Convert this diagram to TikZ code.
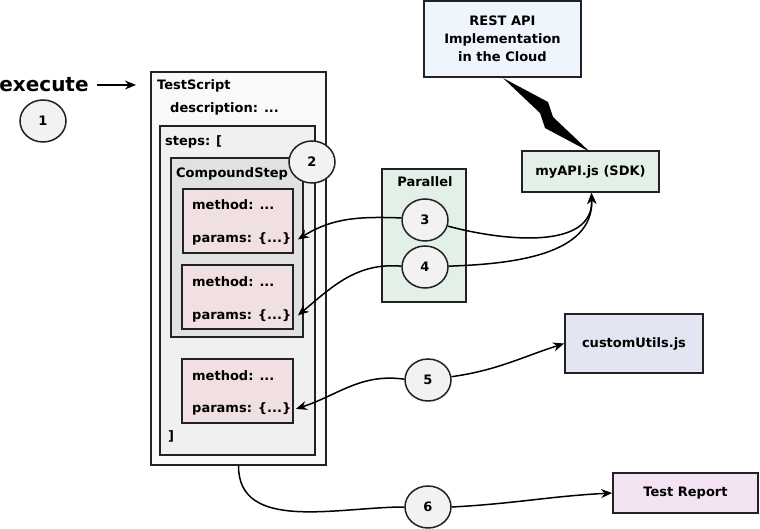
\documentclass[tikz,border=0pt]{standalone}
\usepackage{fontspec}
\setmainfont{DejaVu Sans}
\usetikzlibrary{shapes.geometric,arrows.meta}
\definecolor{bordc}{HTML}{222222}
\definecolor{tsc}{HTML}{F9F9F9}
\definecolor{stc}{HTML}{F0F0F0}
\definecolor{csc}{HTML}{E1E1E1}
\definecolor{mc}{HTML}{F0E0E2}
\definecolor{restc}{HTML}{EEF5FD}
\definecolor{apic}{HTML}{E2F0E8}
\definecolor{parc}{HTML}{E2F0E8}
\definecolor{cuc}{HTML}{E3E5F3}
\definecolor{trc}{HTML}{F3E3F3}
\definecolor{circc}{HTML}{F2F2F2}
\begin{document}
\begin{tikzpicture}[x=1pt,y=1pt,
  every node/.style={font=\bfseries\fontsize{13}{18}\selectfont},
  box/.style={rectangle, draw=bordc, line width=1.8pt, inner sep=0pt},
  lbl/.style={anchor=base west, inner sep=0pt},
  num/.style={ellipse, draw=bordc, line width=1.5pt, fill=circc,
    minimum width=46pt, minimum height=42pt, inner sep=0pt},
  conn/.style={line width=1.5pt, draw=black},
  arr/.style={conn, -{Stealth[length=11pt,width=9pt,inset=3.5pt]}},
]
\useasboundingbox (0,0) rectangle (760,-529);

% containers
\node[box, fill=tsc, minimum width=175pt, minimum height=393pt] (ts) at (238.5,-268.5) {};
\node[box, fill=stc, minimum width=155pt, minimum height=329pt] (st) at (237.5,-290.5) {};
\node[box, fill=csc, minimum width=132pt, minimum height=179pt] (cs) at (237,-247.5) {};
\node[box, fill=mc, minimum width=110pt, minimum height=64pt] (m1) at (238,-221) {};
\node[box, fill=mc, minimum width=111pt, minimum height=64pt] (m2) at (237.5,-297) {};
\node[box, fill=mc, minimum width=111pt, minimum height=64pt] (m3) at (237.5,-391) {};

% labels inside TestScript
\node[lbl] (tsl) at (157,-90) {TestScript};
\node[lbl] (desc) at (170,-113) {description: ...};
\node[lbl] (stl) at (165,-145.5) {steps: [};
\node[lbl] (csl) at (176,-178) {CompoundStep};
\node[lbl] (me1) at (192,-210) {method: ...};
\node[lbl] (p1) at (192,-243) {params: \{...\}};
\node[lbl] (me2) at (192,-286.5) {method: ...};
\node[lbl] (p2) at (192,-319) {params: \{...\}};
\node[lbl] (me3) at (192,-380) {method: ...};
\node[lbl] (p3) at (192,-412.5) {params: \{...\}};
\node[lbl] (cls) at (168,-440) {]};

% right-hand boxes
\node[box, fill=restc, minimum width=157pt, minimum height=76pt, align=center] (rest) at (502.5,-39) {REST API\\Implementation\\in the Cloud};
\node[box, fill=apic, minimum width=137pt, minimum height=41pt] (api) at (590.5,-171.5) {myAPI.js (SDK)};
\node[box, fill=parc, minimum width=84pt, minimum height=133pt] (par) at (424,-235.5) {};
\node[anchor=base, inner sep=0pt] (parl) at (425,-187) {Parallel};
\node[box, fill=cuc, minimum width=138pt, minimum height=59pt] (cu) at (634,-343.5) {customUtils.js};
\node[box, fill=trc, minimum width=145pt, minimum height=40pt] (tr) at (685.5,-493) {Test Report};

% execute
\node[anchor=base, inner sep=0pt, font=\bfseries\fontsize{20}{22}\selectfont] (ex) at (44,-92) {execute};
\coordinate (exb) at (136,-85);

% lightning
\fill[black] (503,-78) -- (548,-102) -- (553,-117) -- (590,-152) -- (545,-128) -- (540,-113) -- cycle;

% numbered circles
\node[num] (c1) at (43,-121) {1};
\node[num] (c2) at (312,-162) {2};
\node[num] (c3) at (425,-220) {3};
\node[num] (c4) at (425,-267) {4};
\node[num] (c5) at (428,-380) {5};
\node[num] (c6) at (428,-507) {6};

% connectors
\draw[arr, line width=1.3pt, shorten <=8pt] (ex.east |- exb) -- (exb);
\draw[arr] (c3.175) to[out=178,in=32] ([xshift=4pt]m1.east |- p1.center);
\draw[arr] (c4.178) to[out=175,in=40] ([xshift=4pt]m2.east |- p2.center);
\draw[arr] (c5.178) to[out=172,in=18] ([xshift=2pt]m3.east |- p3.center);
\draw[arr] (c3.-15) to[out=-15,in=-88] ([xshift=1pt]api.south);
\draw[arr] (c4.2) to[out=2,in=-88] ([xshift=1pt]api.south);
\draw[arr] (c5.8) to[out=8,in=198] (cu.west);
\draw[conn] (ts.south) to[out=-90,in=180] (c6.west);
\draw[arr] (c6.east) to[out=3,in=183] (tr.west);

\end{tikzpicture}
\end{document}
